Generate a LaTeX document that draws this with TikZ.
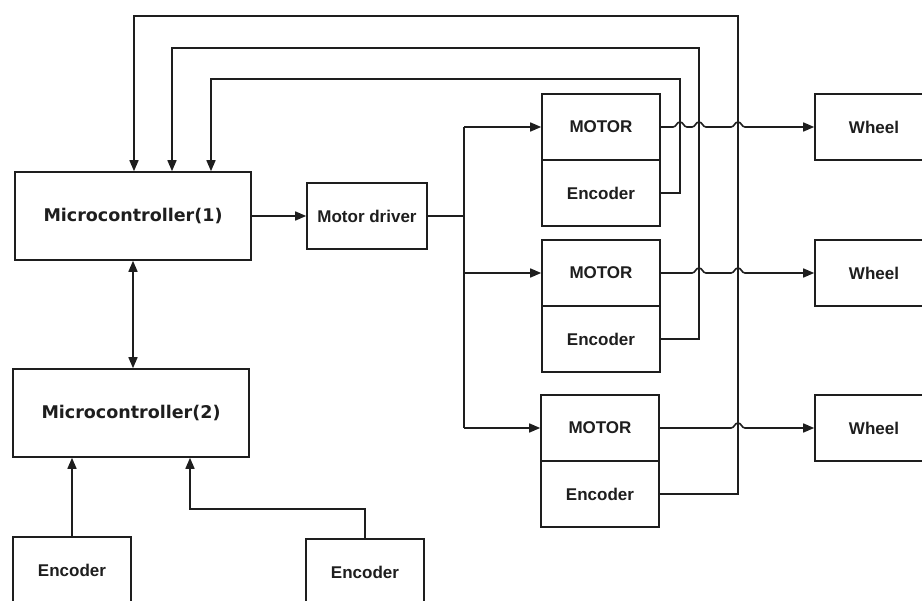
\documentclass[tikz,border=0pt]{standalone}
\usepackage{fontspec}
\setmainfont{Liberation Sans}
\newfontfamily\mcfont{DejaVu Sans}
\usetikzlibrary{arrows.meta,calc}
\definecolor{ink}{HTML}{1E1E1E}
\newcommand\jumpover[1]{-- ([xshift=-7pt]#1) .. controls ([xshift=-3.5pt]#1) and ([xshift=-3.5pt,yshift=5pt]#1) .. ([yshift=5pt]#1) .. controls ([xshift=3.5pt,yshift=5pt]#1) and ([xshift=3.5pt]#1) .. ([xshift=7pt]#1)}
\begin{document}
\begin{tikzpicture}[x=1pt,y=-1pt,
  box/.style={draw=ink, line width=1.6pt, minimum width=118pt, minimum height=66pt, inner sep=0pt, text=ink, font=\bfseries\fontsize{17}{20}\selectfont},
  mcbox/.style={box, minimum width=236pt, minimum height=88pt, font=\mcfont\bfseries\fontsize{17.5}{21}\selectfont},
  wire/.style={draw=ink, line width=1.6pt},
  arr/.style={wire, -{Triangle[length=11pt,width=9pt]}},
  darr/.style={wire, {Triangle[length=11pt,width=9pt]}-{Triangle[length=11pt,width=9pt]}},
]
\useasboundingbox[fill=white] (0,0) rectangle (922,601);
\clip (0,0) rectangle (922,601);

% nodes
\node[mcbox] (mc1) at (133,216) {Microcontroller(1)};
\node[mcbox] (mc2) at (131,413) {Microcontroller(2)};
\node[box, minimum width=120pt] (md) at (367,216) {Motor driver};
\node[box] (m1) at (601,127) {MOTOR};
\node[box] (e1) at (601,193) {Encoder};
\node[box] (m2) at (601,273) {MOTOR};
\node[box] (e2) at (601,339) {Encoder};
\node[box] (m3) at (600,428) {MOTOR};
\node[box] (e3) at (600,494) {Encoder};
\node[box] (w1) at (874,127) {Wheel};
\node[box] (w2) at (874,273) {Wheel};
\node[box] (w3) at (874,428) {Wheel};
\node[box] (ebl) at (72,570) {Encoder};
\node[box] (ebr) at (365,572) {Encoder};

% helper coordinates
\coordinate (bus) at (464,0);
\coordinate (v1) at (680,79);
\coordinate (v2) at (699,48);
\coordinate (v3) at (738,16);
\coordinate (t1) at (211,0);
\coordinate (t2) at (172,0);
\coordinate (t3) at (134,0);
\coordinate (k) at (190,509);
\coordinate (h11) at (m1.east -| v1);
\coordinate (h12) at (m1.east -| v2);
\coordinate (h13) at (m1.east -| v3);
\coordinate (h22) at (m2.east -| v2);
\coordinate (h23) at (m2.east -| v3);
\coordinate (h33) at (m3.east -| v3);

% connectors
\draw[arr] (mc1.east) -- (md.west);
\draw[wire] (md.east) -- (md.east -| bus);
\draw[wire] (m1.west -| bus) -- (m3.west -| bus);
\draw[arr] (m1.west -| bus) -- (m1.west);
\draw[arr] (m2.west -| bus) -- (m2.west);
\draw[arr] (m3.west -| bus) -- (m3.west);

\draw[arr] (e1.east) -- (e1.east -| v1) -- (v1) -- (v1 -| t1) -- (t1 |- mc1.north);
\draw[arr] (e2.east) -- (e2.east -| v2) -- (v2) -- (v2 -| t2) -- (t2 |- mc1.north);
\draw[arr] (e3.east) -- (e3.east -| v3) -- (v3) -- (v3 -| t3) -- (t3 |- mc1.north);

\draw[arr] (m1.east) \jumpover{h11} \jumpover{h12} \jumpover{h13} -- (w1.west);
\draw[arr] (m2.east) \jumpover{h22} \jumpover{h23} -- (w2.west);
\draw[arr] (m3.east) \jumpover{h33} -- (w3.west);

\draw[darr] (mc1.south) -- (mc1.south |- mc2.north);
\draw[arr] (ebl.north) -- (ebl.north |- mc2.south);
\draw[arr] (ebr.north) -- (ebr.north |- k) -- (k) -- (k |- mc2.south);
\end{tikzpicture}
\end{document}
